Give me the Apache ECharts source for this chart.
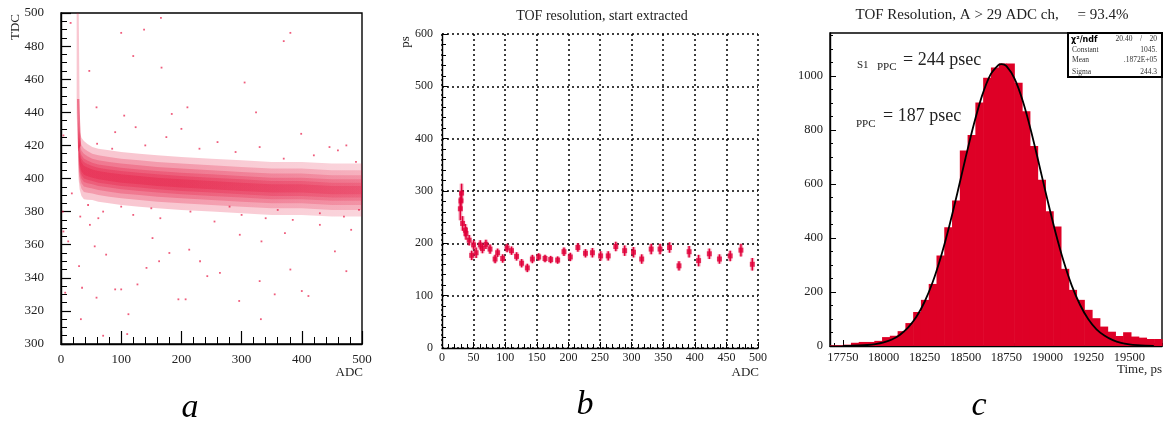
<!DOCTYPE html>
<html><head><meta charset="utf-8">
<script src="https://cdn.jsdelivr.net/npm/echarts@6/dist/echarts.min.js"></script>
<style>html,body{margin:0;padding:0;background:#fff}#c{width:1167px;height:425px}</style>
</head><body><div id="c"></div>
<script>
// ---------- Panel a : TDC vs ADC scatter (band) ----------
const aBandAdc    = [29, 31, 34, 38, 44, 52, 62, 80, 100, 130, 160, 200, 250, 300, 350, 400, 450, 500];
const aBandCenter = [418, 411, 407, 405, 404, 403, 402, 401, 400, 399, 398, 397, 396, 395, 394, 394, 393, 393];
const aBandSpread = [1.1, 1.1, 1.1, 1.1, 1.05, 1.0, 1.0, 1.0, 1.0, 1.0, 1.0, 1.0, 1.0, 1.0, 1.0, 1.0, 1.0, 1.0];
const aBandLayers = [2.5, 4.5, 6.5, 9, 12, 16];
const aStreakOuter = [[26, 500], [29.5, 500], [31, 440], [33, 420], [28, 418], [26, 440]];
const aStreakInner = [[26.5, 448], [30.5, 448], [33, 420], [28.5, 416]];
const aOutliers = [
  [166,497],[100,488],[138,490],[120,474],[167,467],[47,465],[305,458],[59,443],[105,438],[210,443],
  [324,440],[184,439],[370,483],[381,488],[399,427],[124,431],[200,430],[90,428],[446,419],[474,420],
  [16,494],[18,391],[4,426],[32,377],[48,372],[62,376],[56,359],[75,354],[30,347],[35,334],[59,328],
  [33,315],[70,305],[90,333],[100,333],[110,306],[112,318],[127,336],[142,346],[152,364],[163,350],
  [180,355],[195,327],[207,327],[213,357],[231,350],[243,341],[264,343],[296,326],[297,366],[330,338],
  [332,315],[333,362],[355,330],[372,367],[381,345],[400,332],[411,329],[430,372],[455,356],[474,344],
  [482,369],[7,331],[3,380],[4,368],[12,362],
  [60,421],[85,418],[140,420],[175,425],[230,418],[260,422],[290,416],[330,419],[370,412],[420,414],
  [460,417],[490,410],[70,380],[120,378],[165,376],[215,380],[255,374],[300,378],[340,376],[385,375],
  [430,379],[470,377],[495,381],[45,384],[100,383],[150,382],[280,383],[360,381]
];

// ---------- Panel b : TOF resolution vs ADC ----------
const bAdc = [29,30,31,32.6,37,38,43,47,50,54,60.5,64,69.5,76,84,88,96,103,110,118,126,135,143,153,163,172,183,193,203,215,227,238,251,263,275,289,303,316,331,345,360,375,391,406,423,439,456,473,491];
const bRes = [266,281,296,238,225,219,206,177,197,182,197,190,198,189,170,182,171,191,186,175,162,153,170,174,171,169,168,184,174,192,181,182,176,176,194,186,183,170,189,189,192,157,184,167,180,170,176,187,160];
const bErr = [22,18,18,14,12,12,10,9,9,10,9,9,9,9,8,8,8,8,8,8,8,8,8,7,7,7,7,8,8,8,8,9,9,9,9,10,10,9,10,10,10,9,11,11,10,9,10,12,12];

// ---------- Panel c : TOF histogram with gaussian fit ----------
const cHistLow = 17657.5;
const cBinWidth = 47.5;
const cCounts = [2,2,5,12,15,15,19,33,38,55,85,126,171,230,335,440,539,725,782,902,994,1032,1047,1047,976,870,741,616,499,443,286,208,171,134,103,72,53,37,51,35,31,26,26];
const cFitTime  = [17750,17800,17850,17900,17950,18000,18050,18100,18150,18200,18250,18300,18350,18400,18450,18500,18550,18600,18650,18700,18720,18750,18800,18850,18900,18950,19000,19050,19100,19150,19200,19250,19300,19350,19400,19450,19500,19550,19600,19650];
const cFitValue = [0.4,0.9,1.8,3.7,7.3,13.6,24,42,69,108,164,238,332,443,567,697,820,926,1003,1041,1045,1037,990,907,797,671,542,420,312,222,152,99,62,38,22,12,6.4,3.3,1.6,0.7];
const cXLabels = [17750,18000,18250,18500,18750,19000,19250,19500];
const cXMinor = [];
for (let v = 17700; v <= 19700; v += 50) cXMinor.push(v);
const cYLabels = [0,200,400,600,800,1000];
const cYMinor = [];
for (let v = 0; v <= 1150; v += 50) cYMinor.push(v);

const FONT = 'Liberation Serif';
const RED = '#de0026';

function bandSeries(width, fill) {
  return {
    type: 'custom', xAxisIndex: 0, yAxisIndex: 0, silent: true,
    data: [[aBandAdc[0], aBandCenter[0]]],
    renderItem: function (params, api) {
      const pts = [];
      for (let i = 0; i < aBandAdc.length; i++) pts.push(api.coord([aBandAdc[i], aBandCenter[i] + width * aBandSpread[i]]));
      for (let i = aBandAdc.length - 1; i >= 0; i--) pts.push(api.coord([aBandAdc[i], aBandCenter[i] - width * aBandSpread[i]]));
      return { type: 'polygon', shape: { points: pts }, style: { fill: fill } };
    }
  };
}
function polySeries(poly, fill) {
  return {
    type: 'custom', xAxisIndex: 0, yAxisIndex: 0, silent: true,
    data: [poly[0]],
    renderItem: function (params, api) {
      return { type: 'polygon', shape: { points: poly.map(p => api.coord(p)) }, style: { fill: fill } };
    }
  };
}
function grad(a0, a1) {
  return new echarts.graphic.LinearGradient(0, 0, 1, 0, [
    { offset: 0, color: 'rgba(226,0,45,' + a0 + ')' },
    { offset: 0.35, color: 'rgba(226,0,45,' + a0 + ')' },
    { offset: 1, color: 'rgba(226,0,45,' + a1 + ')' }
  ]);
}

const plain = v => String(v);
const lbl = (size, margin) => ({ fontFamily: FONT, fontSize: size, color: '#222', margin: margin, formatter: plain });
const axLine = { show: true, lineStyle: { color: '#000', width: 1.4 } };

const bandLayerSeries = aBandLayers.map(w => bandSeries(w, grad(0.22, 0.17)));

const chart = echarts.init(document.getElementById('c'), null, { renderer: 'canvas' });
chart.setOption({
  animation: false,
  backgroundColor: '#fff',
  grid: [
    { left: 61, top: 13, width: 301, height: 331, show: true, borderColor: '#000', borderWidth: 1.4, backgroundColor: 'transparent' },
    { left: 442, top: 34, width: 316, height: 314 },
    { left: 830, top: 33, width: 332, height: 313, show: true, borderColor: '#000', borderWidth: 1.4, backgroundColor: 'transparent' }
  ],
  xAxis: [
    { gridIndex: 0, type: 'value', min: 0, max: 500, interval: 100, axisLine: axLine,
      axisTick: { inside: true, length: 13, lineStyle: { color: '#000', width: 1.2 } },
      minorTick: { show: true, splitNumber: 5, length: 7, lineStyle: { color: '#000', width: 1 } },
      axisLabel: lbl(13, 9), splitLine: { show: false } },
    { gridIndex: 1, type: 'value', min: 0, max: 500, interval: 50, axisLine: axLine,
      axisTick: { inside: true, length: 6, lineStyle: { color: '#000' } },
      minorTick: { show: true, splitNumber: 5, length: 4, lineStyle: { color: '#000' } },
      axisLabel: lbl(12, 4),
      splitLine: { show: true, lineStyle: { color: '#000', type: [2, 3], width: 1.5 } } },
    { gridIndex: 2, type: 'value', min: 17672, max: 19700, axisLine: axLine,
      axisTick: { inside: true, length: 6, customValues: cXLabels, lineStyle: { color: '#000' } },
      axisLabel: Object.assign(lbl(12.5, 5), { customValues: cXLabels }), splitLine: { show: false } },
    { gridIndex: 2, type: 'value', min: 17672, max: 19700, position: 'bottom',
      axisLine: { show: false }, axisLabel: { show: false }, splitLine: { show: false },
      axisTick: { inside: true, length: 3, customValues: cXMinor, lineStyle: { color: '#000' } } }
  ],
  yAxis: [
    { gridIndex: 0, type: 'value', min: 300, max: 500, interval: 20, axisLine: axLine,
      axisTick: { inside: true, length: 10, lineStyle: { color: '#000', width: 1.2 } },
      minorTick: { show: true, splitNumber: 4, length: 6, lineStyle: { color: '#000' } },
      axisLabel: lbl(13, 17), splitLine: { show: false } },
    { gridIndex: 1, type: 'value', min: 0, max: 600, interval: 100, axisLine: axLine,
      axisTick: { inside: true, length: 6, lineStyle: { color: '#000' } },
      minorTick: { show: true, splitNumber: 5, length: 4, lineStyle: { color: '#000' } },
      axisLabel: lbl(12, 9),
      splitLine: { show: true, lineStyle: { color: '#000', type: [2, 3], width: 1.5 } } },
    { gridIndex: 2, type: 'value', min: 0, max: 1160, axisLine: axLine,
      axisTick: { inside: true, length: 6, customValues: cYLabels, lineStyle: { color: '#000' } },
      axisLabel: Object.assign(lbl(12.5, 7), { customValues: cYLabels }), splitLine: { show: false } },
    { gridIndex: 2, type: 'value', min: 0, max: 1160, position: 'left',
      axisLine: { show: false }, axisLabel: { show: false }, splitLine: { show: false },
      axisTick: { inside: true, length: 3, customValues: cYMinor, lineStyle: { color: '#000' } } }
  ],
  series: [
    // panel a
    ...bandLayerSeries,
    polySeries(aStreakOuter, 'rgba(226,0,45,0.22)'),
    polySeries(aStreakInner, 'rgba(226,0,45,0.42)'),
    { type: 'scatter', xAxisIndex: 0, yAxisIndex: 0, data: aOutliers, symbol: 'rect', symbolSize: 1.8,
      itemStyle: { color: 'rgba(230,0,50,0.8)' }, silent: true },
    // panel b
    { type: 'custom', xAxisIndex: 1, yAxisIndex: 1, silent: true,
      data: bAdc.map((x, i) => [x, bRes[i], bErr[i]]),
      renderItem: function (params, api) {
        const x = api.value(0), y = api.value(1), e = api.value(2);
        const p0 = api.coord([x, y - e]), p1 = api.coord([x, y + e]);
        return { type: 'group', children: [
          { type: 'line', shape: { x1: p0[0], y1: p0[1], x2: p1[0], y2: p1[1] }, style: { stroke: 'rgba(230,0,60,0.3)', lineWidth: 4 } },
          { type: 'line', shape: { x1: p0[0], y1: p0[1], x2: p1[0], y2: p1[1] }, style: { stroke: '#e0003a', lineWidth: 1.5 } }
        ] };
      } },
    { type: 'scatter', xAxisIndex: 1, yAxisIndex: 1, data: bAdc.map((x, i) => [x, bRes[i]]),
      symbol: 'rect', symbolSize: 5, itemStyle: { color: '#e0003a' }, silent: true },
    // panel c
    { type: 'custom', xAxisIndex: 2, yAxisIndex: 2, silent: true,
      data: cCounts.map((v, i) => [cHistLow + (i + 0.5) * cBinWidth, v]),
      renderItem: function (params, api) {
        const i = params.dataIndex;
        const x0 = Math.max(cHistLow + i * cBinWidth, 17672);
        const x1 = cHistLow + (i + 1) * cBinWidth;
        const p0 = api.coord([x0, api.value(1)]);
        const p1 = api.coord([x1, 0]);
        return { type: 'rect', shape: { x: p0[0], y: p0[1], width: p1[0] - p0[0] + 0.6, height: p1[1] - p0[1] },
          style: { fill: RED } };
      } },
    { type: 'line', xAxisIndex: 2, yAxisIndex: 2, data: cFitTime.map((t, i) => [t, cFitValue[i]]),
      showSymbol: false, smooth: 0.3, lineStyle: { color: '#000', width: 1.8 }, silent: true, z: 5 }
  ],
  graphic: [
    // panel a texts
    { type: 'text', x: 16, y: 27, rotation: Math.PI / 2, style: { text: 'TDC', font: '13px ' + FONT, fill: '#222', align: 'center', verticalAlign: 'middle' } },
    { type: 'text', style: { x: 363, y: 373, text: 'ADC', font: '13px ' + FONT, fill: '#222', align: 'right', verticalAlign: 'middle' } },
    { type: 'text', style: { x: 190, y: 408, text: 'a', font: 'italic 34px ' + FONT, fill: '#000', align: 'center', verticalAlign: 'middle' } },
    // panel b texts
    { type: 'text', style: { x: 602, y: 16, text: 'TOF resolution, start extracted', font: '14px ' + FONT, fill: '#222', align: 'center', verticalAlign: 'middle' } },
    { type: 'text', x: 406, y: 42, rotation: Math.PI / 2, style: { text: 'ps', font: '13px ' + FONT, fill: '#222', align: 'center', verticalAlign: 'middle' } },
    { type: 'text', style: { x: 759, y: 373, text: 'ADC', font: '13px ' + FONT, fill: '#222', align: 'right', verticalAlign: 'middle' } },
    { type: 'text', style: { x: 585, y: 405, text: 'b', font: 'italic 34px ' + FONT, fill: '#000', align: 'center', verticalAlign: 'middle' } },
    // panel c texts
    { type: 'text', style: { x: 992, y: 15, text: 'TOF Resolution, A > 29 ADC ch,     = 93.4%', font: '15px ' + FONT, fill: '#222', align: 'center', verticalAlign: 'middle' } },
    { type: 'text', style: { x: 857, y: 65, text: 'S1', font: '11px ' + FONT, fill: '#222', align: 'left', verticalAlign: 'middle' } },
    { type: 'text', style: { x: 877, y: 67, text: 'PPC', font: '11px ' + FONT, fill: '#222', align: 'left', verticalAlign: 'middle' } },
    { type: 'text', style: { x: 903, y: 60, text: '= 244 psec', font: '18px ' + FONT, fill: '#222', align: 'left', verticalAlign: 'middle' } },
    { type: 'text', style: { x: 856, y: 124, text: 'PPC', font: '11px ' + FONT, fill: '#222', align: 'left', verticalAlign: 'middle' } },
    { type: 'text', style: { x: 883, y: 116, text: '= 187 psec', font: '18px ' + FONT, fill: '#222', align: 'left', verticalAlign: 'middle' } },
    { type: 'rect', shape: { x: 1068, y: 33, width: 94, height: 44 }, style: { fill: '#fff', stroke: '#000', lineWidth: 2 } },
    { type: 'text', style: { x: 1071, y: 39.5, text: 'χ²/ndf', font: 'bold 8px DejaVu Sans', fill: '#000', align: 'left', verticalAlign: 'middle' } },
    { type: 'text', style: { x: 1157, y: 39.5, text: '20.40    /    20', font: '7.5px ' + FONT, fill: '#333', align: 'right', verticalAlign: 'middle' } },
    { type: 'text', style: { x: 1072, y: 50.5, text: 'Constant', font: '7.5px ' + FONT, fill: '#333', align: 'left', verticalAlign: 'middle' } },
    { type: 'text', style: { x: 1157, y: 50.5, text: '1045.', font: '7.5px ' + FONT, fill: '#333', align: 'right', verticalAlign: 'middle' } },
    { type: 'text', style: { x: 1072, y: 60.5, text: 'Mean', font: '7.5px ' + FONT, fill: '#333', align: 'left', verticalAlign: 'middle' } },
    { type: 'text', style: { x: 1157, y: 60.5, text: '.1872E+05', font: '7.5px ' + FONT, fill: '#333', align: 'right', verticalAlign: 'middle' } },
    { type: 'text', style: { x: 1072, y: 72, text: 'Sigma', font: '7.5px ' + FONT, fill: '#333', align: 'left', verticalAlign: 'middle' } },
    { type: 'text', style: { x: 1157, y: 72, text: '244.3', font: '7.5px ' + FONT, fill: '#333', align: 'right', verticalAlign: 'middle' } },
    { type: 'text', style: { x: 1162, y: 370, text: 'Time, ps', font: '13px ' + FONT, fill: '#222', align: 'right', verticalAlign: 'middle' } },
    { type: 'text', style: { x: 979, y: 406, text: 'c', font: 'italic 34px ' + FONT, fill: '#000', align: 'center', verticalAlign: 'middle' } }
  ]
});
</script>
</body></html>
